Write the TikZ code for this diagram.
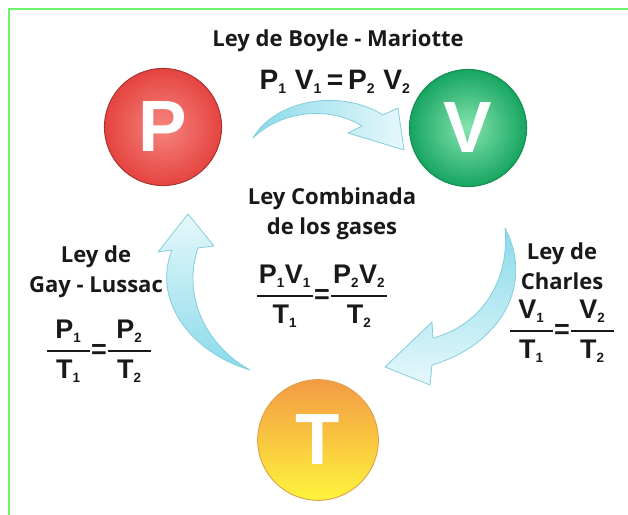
\documentclass[tikz,border=0pt]{standalone}
\usepackage{fontspec}
\usepackage{amsmath}
\setmainfont{Open Sans}
\newfontfamily\eqfont{Liberation Sans}
\definecolor{frame}{HTML}{6CF26C}
\definecolor{arrowdark}{HTML}{8ADAEA}
\definecolor{arrowlight}{HTML}{E6F8FB}
\definecolor{arrowedge}{HTML}{86CEDD}
\definecolor{pin}{HTML}{F6857F}
\definecolor{pout}{HTML}{E54440}
\definecolor{pedge}{HTML}{A83030}
\definecolor{vin}{HTML}{86E4AE}
\definecolor{vout}{HTML}{16A561}
\definecolor{vedge}{HTML}{138A50}
\definecolor{ttop}{HTML}{F39A44}
\definecolor{tbot}{HTML}{FFF43C}
\definecolor{tedge}{HTML}{DDA24A}

% letter with a small subscript index
\newcommand\sq[2]{\text{#1}_{\scriptscriptstyle\text{#2}}}
% fraction with a thick bar and side padding
\newcommand\fr[3]{\genfrac{}{}{2pt}{0}{\hspace{#1}#2\hspace{#1}}{#3}}

\begin{document}
\begin{tikzpicture}[x=0.03cm,y=-0.03cm,
  lab/.style={font=\bfseries\fontsize{18.8}{25.6}\selectfont, align=center, text=black!90, inner sep=0pt},
  eq/.style={font=\eqfont\bfseries\fontsize{23}{27}\selectfont, text=black!90, inner sep=0pt},
  eqbig/.style={font=\eqfont\bfseries\fontsize{24}{28}\selectfont, text=black!90, inner sep=0pt},
  ball/.style={circle, minimum size=100pt, inner sep=0pt, line width=0.8pt, text=white,
    font=\eqfont\bfseries\fontsize{62}{62}\selectfont},
  flow/.style={draw=arrowedge, line width=0.7pt, line join=round}
]
\useasboundingbox (0,0) rectangle (628,515);

% frame
\draw[frame, line width=1.7pt] (9,515) -- (9,9) -- (628,9);

% curved block arrows of the cycle
\path[flow, left color=arrowdark, right color=arrowlight]
  (253,138) .. controls (275,100) and (340,88) .. (383,115)
  -- (398,108) -- (404,150) -- (348,133) -- (362,126)
  .. controls (330,106) and (282,110) .. (253,138) -- cycle;
\path[flow, top color=arrowdark, bottom color=arrowlight]
  (505,228) .. controls (535,285) and (500,345) .. (432,365)
  -- (430,385) -- (385,367) -- (432,322) -- (433,338)
  .. controls (482,325) and (510,280) .. (505,228) -- cycle;
\path[flow, bottom color=arrowdark, top color=arrowlight]
  (250,370) .. controls (190,352) and (152,300) .. (172,250)
  -- (158,252) -- (188,214) -- (214,246) -- (198,248)
  .. controls (182,295) and (205,345) .. (250,370) -- cycle;

% the three state variables
\node[ball, draw=pedge, inner color=pin, outer color=pout] (P) at (163,127) {P};
\node[ball, draw=vedge, inner color=vin, outer color=vout] (V) at (468,128) {V};
\node[ball, minimum size=103pt, draw=tedge, top color=ttop, bottom color=tbot] (T) at (318,440) {T};

% laws
\node[lab] (boyle) at (338,41) {Ley de Boyle - Mariotte};
\node[eqbig] (boyleeq) at (335,82) {$\sq{P}{1}\;\sq{V}{1}\,\text{=}\,\sq{P}{2}\;\sq{V}{2}$};

\node[lab] (comb) at (332,214) {Ley Combinada\\de los gases};
\node[eq] (combeq) at (322,296) {$\fr{1.5pt}{\sq{P}{1}\sq{V}{1}}{\sq{T}{1}}\text{=}\fr{1.5pt}{\sq{P}{2}\sq{V}{2}}{\sq{T}{2}}$};

\node[lab] (gay) at (96,272) {Ley de\\Gay - Lussac};
\node[eq] (gayeq) at (99,351) {$\fr{7pt}{\sq{P}{1}}{\sq{T}{1}}\text{=}\fr{7pt}{\sq{P}{2}}{\sq{T}{2}}$};

\node[lab] (charles) at (562,266) {Ley de\\Charles};
\node[eq] (chareq) at (562,331) {$\fr{7pt}{\sq{V}{1}}{\sq{T}{1}}\text{=}\fr{7pt}{\sq{V}{2}}{\sq{T}{2}}$};
\end{tikzpicture}
\end{document}
